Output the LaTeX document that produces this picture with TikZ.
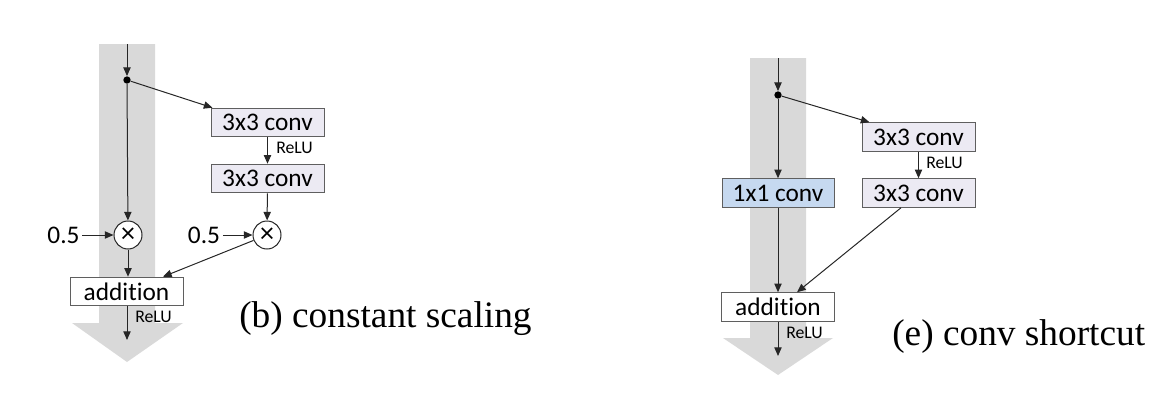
\documentclass[tikz,border=0pt]{standalone}
\usepackage{fontspec}
\setmainfont{Liberation Serif}
\newfontfamily\calfont{Carlito}[Ligatures=NoCommon]
\usetikzlibrary{arrows.meta,calc}
\definecolor{bandgray}{RGB}{217,217,217}
\definecolor{lav}{RGB}{236,234,243}
\definecolor{lblue}{RGB}{198,217,240}
\definecolor{edgegray}{RGB}{95,95,95}
\begin{document}
\begin{tikzpicture}[x=0.75pt,y=-0.75pt,
  arr/.style={-{Triangle[length=6.5pt,width=5.5pt]},line width=0.75pt,draw=black!85},
  band/.style={fill=bandgray,draw=none},
  opbox/.style={draw=edgegray,line width=0.75pt,fill=lav,minimum width=84.75pt,minimum height=21.4pt,inner sep=0pt,font=\calfont\fontsize{19}{21}\selectfont},
  addbox/.style={opbox,fill=white},
  convbox/.style={opbox,fill=lblue,minimum width=84pt},
  mult/.style={circle,draw=black!85,line width=0.75pt,fill=white,minimum size=21pt,inner sep=0pt,font=\calfont\fontsize{21}{21}\selectfont},
  dotn/.style={circle,fill=black,inner sep=0pt,minimum size=5.5pt},
  relu/.style={anchor=west,inner sep=0pt,font=\calfont\fontsize{13.3}{15}\selectfont},
  half/.style={inner sep=2pt,font=\calfont\fontsize{19}{21}\selectfont},
  captext/.style={anchor=base west,inner sep=0pt,font=\fontsize{28}{32}\selectfont}]
\useasboundingbox (0,0) rectangle (1168,418);

% ---------- left panel (b) ----------
\path[band] (99,44) -- (155,44) -- (155,323) -- (183,323) -- (127,362) -- (72,323) -- (99,323) -- cycle;
\coordinate (top1) at (127,44);
\node[dotn] (dot1) at (127,80) {};
\node[opbox] (b1a) at (267.5,122.5) {3x3 conv};
\node[opbox] (b1b) at (267.5,178.5) {3x3 conv};
\node[mult] (m1) at (128,235) {×};
\node[mult] (m2) at (267,235) {×};
\node[half] (h1) at (63.5,235) {0.5};
\node[half] (h2) at (204,235) {0.5};
\node[addbox] (add1) at (126.5,291.5) {addition};
\coordinate (out1) at (127,340);
\node[relu] (r1a) at (276,148) {ReLU};
\node[relu] (r1b) at (135,317) {ReLU};

\draw[arr] (top1) -- (dot1);
\draw[arr] (dot1) -- ($(b1a.north west)+(2,0)$);
\draw[arr] (b1a) -- (b1b);
\draw[arr] (b1b) -- (m2);
\draw[arr] (dot1) -- (m1);
\draw[arr] (h1) -- (m1);
\draw[arr] (h2) -- (m2);
\draw[arr] (m1) -- (add1.north -| m1);
\draw[arr] (m2) -- ($(add1.north)+(36.5,0)$);
\draw[arr] (add1.south -| out1) -- (out1);

\node[captext] (capb) at (239,327) {(b) constant scaling};

% ---------- right panel (e) ----------
\path[band] (750,58) -- (806,58) -- (806,338) -- (833,338) -- (778,375) -- (723,338) -- (750,338) -- cycle;
\coordinate (top2) at (778,58);
\node[dotn] (dot2) at (778,95) {};
\node[opbox] (e1a) at (918.5,137) {3x3 conv};
\node[opbox] (e1b) at (918.5,193) {3x3 conv};
\node[convbox] (c11) at (778,193) {1x1 conv};
\node[addbox] (add2) at (778,307) {addition};
\coordinate (out2) at (778,356);
\node[relu] (r2a) at (926,163) {ReLU};
\node[relu] (r2b) at (786,333) {ReLU};

\draw[arr] (top2) -- (dot2);
\draw[arr] (dot2) -- ($(e1a.north west)+(8,0)$);
\draw[arr] (e1a) -- (e1b);
\draw[arr] (dot2) -- (c11);
\draw[arr] (c11) -- (add2);
\draw[arr] ($(e1b.south)+(-17.5,0)$) -- ($(add2.north)+(19,0)$);
\draw[arr] (add2.south -| out2) -- (out2);

\node[captext] (cape) at (892,345) {(e) conv shortcut};
\end{tikzpicture}
\end{document}
